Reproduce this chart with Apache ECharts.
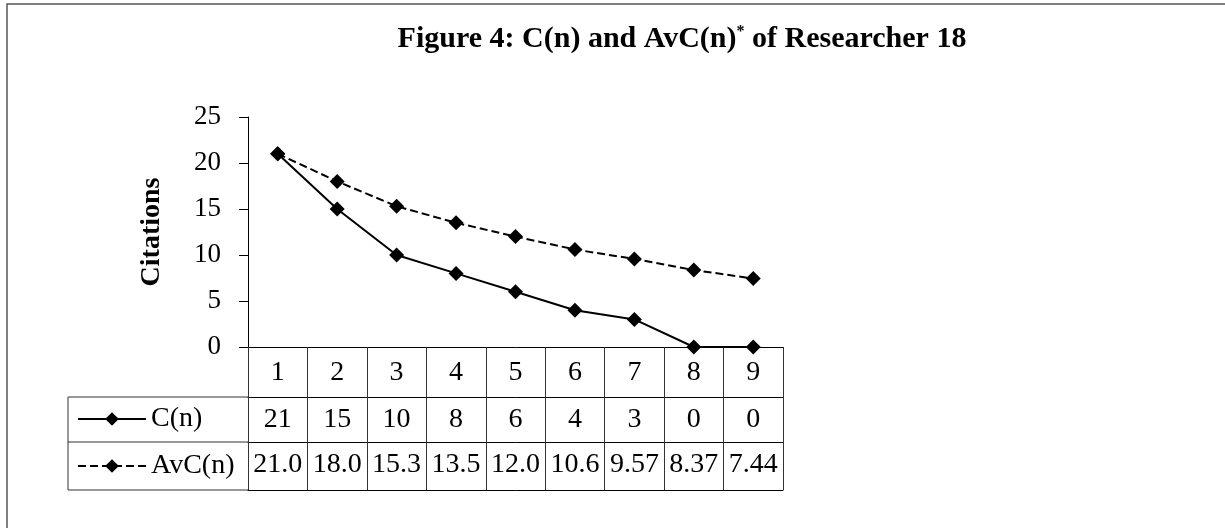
<!DOCTYPE html>
<html>
<head>
<meta charset="utf-8">
<script src="https://cdn.jsdelivr.net/npm/echarts@6/dist/echarts.min.js"></script>
<style>html,body{margin:0;padding:0;background:#fff;}#c{width:1225px;height:528px;}</style>
</head>
<body>
<div id="c"></div>
<script>
var categories = ['1','2','3','4','5','6','7','8','9'];
var cValues = [21, 15, 10, 8, 6, 4, 3, 0, 0];
var avcValues = [21.0, 18.0, 15.3, 13.5, 12.0, 10.6, 9.57, 8.37, 7.44];
var yTicks = [0, 5, 10, 15, 20, 25];
var seriesNames = ['C(n)', 'AvC(n)'];

var FONT = '"Liberation Serif", "Times New Roman", serif';
var chart = echarts.init(document.getElementById('c'), null, {renderer: 'canvas'});

var lineCol = '#333';
function tableAxis(offset, labels, tickLen, margin) {
  return {
    type: 'category', position: 'bottom', offset: offset, data: categories,
    boundaryGap: true,
    axisLine: {show: true, lineStyle: {color: '#000', width: 1}},
    axisTick: {show: tickLen > 0, interval: 0, length: tickLen, inside: false, lineStyle: {color: lineCol, width: 1}},
    axisLabel: {show: !!labels, interval: 0, hideOverlap: false, margin: margin, fontFamily: FONT, fontSize: 28, lineHeight: 28, color: '#000',
      formatter: function (v, i) { return labels ? labels[i] : ''; }},
    splitLine: {show: false}
  };
}

var option = {
  backgroundColor: '#fff',
  animation: false,
  title: {
    text: 'Figure 4: C(n) and AvC(n){sup|*} of Researcher 18',
    left: 677, top: 19, textAlign: 'center',
    textStyle: {fontFamily: FONT, fontSize: 30, fontWeight: 'bold', color: '#000',
      rich: {sup: {fontFamily: FONT, fontSize: 16, fontWeight: 'bold', verticalAlign: 'top', padding: [0, 0, 12, 0], color: '#000'}}}
  },
  legend: {
    orient: 'vertical', left: 72, top: 400, itemGap: 19,
    itemWidth: 68, itemHeight: 17, selectedMode: false,
    data: seriesNames,
    lineStyle: {width: 2},
    textStyle: {fontFamily: FONT, fontSize: 28, color: '#000', lineHeight: 28}
  },
  grid: {left: 248, top: 117, width: 535, height: 230, containLabel: false},
  xAxis: [
    tableAxis(0, categories, 50, 12),
    tableAxis(50, cValues.map(function (v) { return String(v); }), 45, 9),
    tableAxis(95, avcValues.map(function (v) { return v.toPrecision(3); }), 48, 9),
    tableAxis(143, null, 0, 0)
  ],
  yAxis: {
    type: 'value', min: yTicks[0], max: yTicks[yTicks.length - 1], interval: 5,
    name: 'Citations', nameLocation: 'middle', nameGap: 82, nameRotate: 90,
    nameTextStyle: {fontFamily: FONT, fontSize: 28, fontWeight: 'bold', color: '#000'},
    axisLine: {show: true, lineStyle: {color: '#000', width: 1}},
    axisTick: {show: true, length: 9, lineStyle: {color: '#000'}},
    axisLabel: {margin: 27, fontFamily: FONT, fontSize: 27, color: '#000'},
    splitLine: {show: false}
  },
  series: [
    {name: seriesNames[0], type: 'line', data: cValues, xAxisIndex: 0,
      symbol: 'diamond', symbolSize: 15,
      lineStyle: {color: '#000', width: 2, type: 'solid'},
      itemStyle: {color: '#000'}},
    {name: seriesNames[1], type: 'line', data: avcValues, xAxisIndex: 0,
      symbol: 'diamond', symbolSize: 15,
      lineStyle: {color: '#000', width: 2, type: [8, 4]},
      itemStyle: {color: '#000'}}
  ],
  graphic: [
    {type: 'rect', shape: {x: 7, y: 4, width: 1400, height: 800}, silent: true,
      style: {fill: null, stroke: '#555', lineWidth: 1.5}},
    {type: 'line', shape: {x1: 68, y1: 397, x2: 248, y2: 397}, silent: true, style: {stroke: lineCol, lineWidth: 1}},
    {type: 'line', shape: {x1: 68, y1: 442, x2: 248, y2: 442}, silent: true, style: {stroke: lineCol, lineWidth: 1}},
    {type: 'line', shape: {x1: 68, y1: 490, x2: 248, y2: 490}, silent: true, style: {stroke: lineCol, lineWidth: 1}},
    {type: 'line', shape: {x1: 68, y1: 397, x2: 68, y2: 490}, silent: true, style: {stroke: lineCol, lineWidth: 1}}
  ]
};
chart.setOption(option);
</script>
</body>
</html>
